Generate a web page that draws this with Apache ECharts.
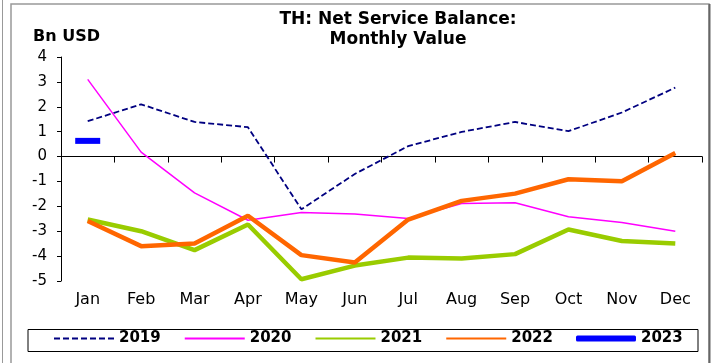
<!DOCTYPE html>
<html>
<head>
<meta charset="utf-8">
<script src="https://cdn.jsdelivr.net/npm/echarts@6/dist/echarts.min.js"></script>
<style>html,body{margin:0;padding:0;background:#fff;}#c{width:712px;height:363px;}</style>
</head>
<body>
<div id="c"></div>
<script>
const months = ['Jan','Feb','Mar','Apr','May','Jun','Jul','Aug','Sep','Oct','Nov','Dec'];
const y2019 = [1.42, 2.10, 1.39, 1.18, -2.12, -0.70, 0.42, 0.99, 1.39, 1.02, 1.77, 2.77];
const y2020 = [3.10, 0.18, -1.46, -2.56, -2.25, -2.31, -2.49, -1.89, -1.86, -2.42, -2.65, -3.00];
const y2021 = [-2.53, -3.00, -3.76, -2.73, -4.93, -4.38, -4.06, -4.10, -3.92, -2.93, -3.39, -3.49];
const y2022 = [-2.59, -3.60, -3.49, -2.38, -3.96, -4.26, -2.53, -1.78, -1.49, -0.91, -0.99, 0.14];
const y2023 = [0.63];
const yTicks = {min: -5, max: 4, interval: 1};

const FONT = 'DejaVu Sans';
const chart = echarts.init(document.getElementById('c'), null, {renderer: 'canvas'});
chart.setOption({
  animation: false,
  backgroundColor: '#fff',
  textStyle: {fontFamily: FONT, color: '#000'},
  grid: {left: 61, right: 10, top: 57, bottom: 82, containLabel: false},
  graphic: [
    {type: 'line', shape: {x1: 2.5, y1: 0, x2: 2.5, y2: 363}, style: {stroke: '#999', lineWidth: 1}},
    {type: 'rect', shape: {x: 11, y: 4, width: 698, height: 370}, style: {fill: 'none', stroke: '#999', lineWidth: 1.5}},
    {type: 'line', shape: {x1: 709.5, y1: 4, x2: 709.5, y2: 363}, style: {stroke: '#666', lineWidth: 2}},
    {type: 'rect', shape: {x: 28, y: 329.5, width: 670, height: 22}, style: {fill: '#fff', stroke: '#000', lineWidth: 1}, z: 0},
    {type: 'text', x: 398, y: 11, style: {text: 'TH: Net Service Balance:', font: 'bold 17px "DejaVu Sans"', fill: '#000', textAlign: 'center'}},
    {type: 'text', x: 398, y: 31, style: {text: 'Monthly Value', font: 'bold 17px "DejaVu Sans"', fill: '#000', textAlign: 'center'}},
    {type: 'text', x: 33, y: 29, style: {text: 'Bn USD', font: 'bold 16px "DejaVu Sans"', fill: '#000'}}
  ],
  legend: {
    left: 53, top: 331, padding: 0,
    itemWidth: 60, itemHeight: 6, itemGap: 23,
    itemStyle: {opacity: 0},
    textStyle: {fontFamily: FONT, fontWeight: 'bold', fontSize: 15, color: '#000', padding: [0,0,0,0]},
    data: ['2019','2020','2021','2022',{name: '2023', icon: 'roundRect', itemStyle: {opacity: 1}}],
    z: 5
  },
  xAxis: [
    {type: 'category', data: months, boundaryGap: true,
     axisLine: {onZero: true, lineStyle: {color: '#000', width: 1}},
     axisTick: {show: true, length: 6, lineStyle: {color: '#000'}},
     axisLabel: {show: false}, splitLine: {show: false}},
    {type: 'category', data: months, boundaryGap: true, position: 'bottom',
     axisLine: {show: false, onZero: false}, axisTick: {show: false},
     axisLabel: {show: true, margin: 11, fontSize: 16, color: '#000', fontFamily: FONT},
     splitLine: {show: false}}
  ],
  yAxis: {
    type: 'value', min: yTicks.min, max: yTicks.max, interval: yTicks.interval,
    axisLine: {show: true, lineStyle: {color: '#000', width: 1}},
    axisTick: {show: true, length: 4, lineStyle: {color: '#000'}},
    axisLabel: {fontSize: 15, color: '#000', margin: 14, fontFamily: FONT},
    splitLine: {show: false}
  },
  series: [
    {name: '2019', type: 'line', data: y2019, symbol: 'none', color: '#000080',
     lineStyle: {color: '#000080', width: 1.8, type: [6, 3]}, z: 2},
    {name: '2020', type: 'line', data: y2020, symbol: 'none', color: '#FF00FF',
     lineStyle: {color: '#FF00FF', width: 1.5}, z: 2},
    {name: '2021', type: 'line', data: y2021, symbol: 'none', color: '#99CC00',
     lineStyle: {color: '#99CC00', width: 4.5}, z: 3},
    {name: '2022', type: 'line', data: y2022, symbol: 'none', color: '#FF6600',
     lineStyle: {color: '#FF6600', width: 4.5}, z: 4},
    {name: '2023', type: 'line', data: y2023, symbol: 'rect', symbolSize: [25, 6], showSymbol: true,
     color: '#0000FF', itemStyle: {color: '#0000FF'}, lineStyle: {color: '#0000FF', width: 6}, z: 5}
  ]
});
</script>
</body>
</html>
